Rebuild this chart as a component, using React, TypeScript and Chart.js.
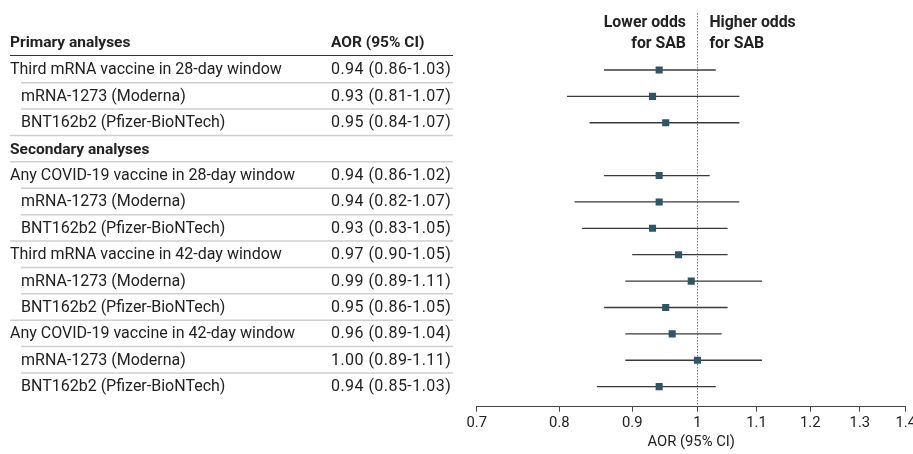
import React, { useEffect, useRef } from "react";
import { Chart, registerables } from "chart.js";

Chart.register(...registerables);

// ---------- data ----------
const rowLabels = [
  "Third mRNA vaccine in 28-day window",
  "mRNA-1273 (Moderna)",
  "BNT162b2 (Pfizer-BioNTech)",
  "Secondary analyses",
  "Any COVID-19 vaccine in 28-day window",
  "mRNA-1273 (Moderna)",
  "BNT162b2 (Pfizer-BioNTech)",
  "Third mRNA vaccine in 42-day window",
  "mRNA-1273 (Moderna)",
  "BNT162b2 (Pfizer-BioNTech)",
  "Any COVID-19 vaccine in 42-day window",
  "mRNA-1273 (Moderna)",
  "BNT162b2 (Pfizer-BioNTech)",
];
// 0 = group row, 1 = indented sub row, 2 = section header
const rowLevels = [0, 1, 1, 2, 0, 1, 1, 0, 1, 1, 0, 1, 1];
const aorValues = [0.94, 0.93, 0.95, null, 0.94, 0.94, 0.93, 0.97, 0.99, 0.95, 0.96, 1.0, 0.94];
const ciLower = [0.86, 0.81, 0.84, null, 0.86, 0.82, 0.83, 0.9, 0.89, 0.86, 0.89, 0.89, 0.85];
const ciUpper = [1.03, 1.07, 1.07, null, 1.02, 1.07, 1.05, 1.05, 1.11, 1.05, 1.04, 1.11, 1.03];
const aorText = [
  "0.94 (0.86-1.03)",
  "0.93 (0.81-1.07)",
  "0.95 (0.84-1.07)",
  "",
  "0.94 (0.86-1.02)",
  "0.94 (0.82-1.07)",
  "0.93 (0.83-1.05)",
  "0.97 (0.90-1.05)",
  "0.99 (0.89-1.11)",
  "0.95 (0.86-1.05)",
  "0.96 (0.89-1.04)",
  "1.00 (0.89-1.11)",
  "0.94 (0.85-1.03)",
];
const xTicks = [0.7, 0.8, 0.9, 1, 1.1, 1.2, 1.3, 1.4];
const firstHeader = "Primary analyses";
const columnHeader = "AOR (95% CI)";
const axisTitle = "AOR (95% CI)";
const lowerLabel = ["Lower odds", "for SAB"];
const higherLabel = ["Higher odds", "for SAB"];

const FONT = "Roboto, 'Noto Sans', sans-serif";
const TEXT = "#222";

const tablePlugin = {
  id: "forestTable",
  beforeDatasetsDraw(chart: any) {
    const { ctx, scales, chartArea } = chart;
    const x = scales.x;
    const y = scales.y;
    ctx.save();
    // reference line at 1
    const x1 = x.getPixelForValue(1);
    ctx.strokeStyle = "#7a7a7a";
    ctx.lineWidth = 1;
    ctx.setLineDash([1.5, 1.5]);
    ctx.beginPath();
    ctx.moveTo(Math.round(x1) + 0.5, chartArea.top);
    ctx.lineTo(Math.round(x1) + 0.5, chartArea.bottom);
    ctx.stroke();
    ctx.setLineDash([]);
    // whiskers
    ctx.strokeStyle = "#3a3a3a";
    ctx.lineWidth = 1.3;
    for (let i = 0; i < aorValues.length; i++) {
      if (aorValues[i] == null) continue;
      const py = y.getPixelForValue(i);
      ctx.beginPath();
      ctx.moveTo(x.getPixelForValue(ciLower[i] as number), py);
      ctx.lineTo(x.getPixelForValue(ciUpper[i] as number), py);
      ctx.stroke();
    }
    ctx.restore();
  },
  afterDraw(chart: any) {
    const { ctx, scales } = chart;
    const y = scales.y;
    const x = scales.x;
    const left = 10;
    const indent = 21;
    const colX = 331;
    const right = 453;
    ctx.save();
    ctx.textBaseline = "alphabetic";
    // header row
    const hy = y.getPixelForValue(-1);
    ctx.fillStyle = TEXT;
    ctx.font = `bold 15.5px ${FONT}`;
    ctx.textAlign = "left";
    ctx.fillText(firstHeader, left, hy + 3.5);
    ctx.fillText(columnHeader, colX, hy + 3.5);
    ctx.strokeStyle = "#333";
    ctx.lineWidth = 1;
    ctx.beginPath();
    const hl = (y.getPixelForValue(-1) + y.getPixelForValue(0)) / 2 - 2;
    ctx.moveTo(left, Math.round(hl) + 0.5);
    ctx.lineTo(right, Math.round(hl) + 0.5);
    ctx.stroke();

    for (let i = 0; i < rowLabels.length; i++) {
      const py = y.getPixelForValue(i);
      const lvl = rowLevels[i];
      ctx.fillStyle = TEXT;
      (ctx as any).letterSpacing = "0px";
      if (lvl === 2) {
        ctx.font = `bold 15.5px ${FONT}`;
      } else {
        ctx.font = `16px ${FONT}`;
      }
      ctx.fillText(rowLabels[i], lvl === 1 ? indent : left, py + 4.5);
      if (aorText[i]) {
        ctx.font = `16px ${FONT}`;
        (ctx as any).letterSpacing = "0.45px";
        ctx.fillText(aorText[i], colX, py + 4.5);
        (ctx as any).letterSpacing = "0px";
      }
      if (i < rowLabels.length - 1) {
        const nextIndented = rowLevels[i + 1] === 1;
        const sy = (py + y.getPixelForValue(i + 1)) / 2 - 0.5;
        ctx.strokeStyle = "#cfcfcf";
        ctx.lineWidth = 1.5;
        ctx.beginPath();
        ctx.moveTo(nextIndented ? indent : left, sy);
        ctx.lineTo(right, sy);
        ctx.stroke();
      }
    }

    // direction labels
    const x1 = x.getPixelForValue(1);
    ctx.font = `bold 15.8px ${FONT}`;
    ctx.fillStyle = TEXT;
    ctx.textAlign = "right";
    ctx.fillText(lowerLabel[0], x1 - 11.5, 26.5);
    ctx.fillText(lowerLabel[1], x1 - 11.5, 47.5);
    ctx.textAlign = "left";
    ctx.fillText(higherLabel[0], x1 + 12, 26.5);
    ctx.fillText(higherLabel[1], x1 + 12, 47.5);
    ctx.restore();
  },
};

export default function App() {
  const ref = useRef<HTMLCanvasElement | null>(null);
  useEffect(() => {
    if (!ref.current) return;
    const points = aorValues
      .map((v, i) => (v == null ? null : { x: v, y: i }))
      .filter((p) => p !== null);
    const chart = new Chart(ref.current, {
      type: "scatter",
      data: {
        datasets: [
          {
            data: points as any,
            pointStyle: "rect",
            pointRadius: 5,
            pointHoverRadius: 5,
            backgroundColor: "#2f5566",
            borderWidth: 0,
          },
        ],
      },
      options: {
        responsive: false,
        animation: false,
        events: [],
        layout: { padding: { left: 476.7, right: 7.3, top: 13, bottom: 0 } },
        plugins: { legend: { display: false }, tooltip: { enabled: false } },
        scales: {
          x: {
            type: "logarithmic",
            min: 0.7,
            max: 1.4,
            afterBuildTicks: (scale: any) => {
              scale.ticks = xTicks.map((v) => ({ value: v }));
            },
            afterFit: (scale: any) => {
              scale.height = 47.3;
              scale.paddingLeft = 0;
              scale.paddingRight = 0;
            },
            grid: {
              display: true,
              drawOnChartArea: false,
              drawTicks: true,
              tickLength: 5,
              color: "#444",
            },
            border: { display: true, color: "#444", width: 1 },
            ticks: {
              padding: 3,
              color: TEXT,
              font: { family: FONT, size: 14.8 },
              autoSkip: false,
              maxRotation: 0,
              callback: (v: any) => String(Number(Number(v).toFixed(2))),
            },
            title: {
              display: true,
              text: axisTitle,
              color: TEXT,
              font: { family: FONT, size: 14.8 },
              padding: { top: 0, bottom: 2.6 },
            },
          },
          y: {
            type: "linear",
            display: false,
            reverse: true,
            min: -2.16,
            max: 12.76,
          },
        },
      },
      plugins: [tablePlugin],
    });
    return () => chart.destroy();
  }, []);
  return (
    <div style={{ position: "absolute", left: 0, top: 0, width: 913, height: 454, background: "#fff" }}>
      <canvas ref={ref} width={913} height={454} style={{ display: "block" }} />
    </div>
  );
}
